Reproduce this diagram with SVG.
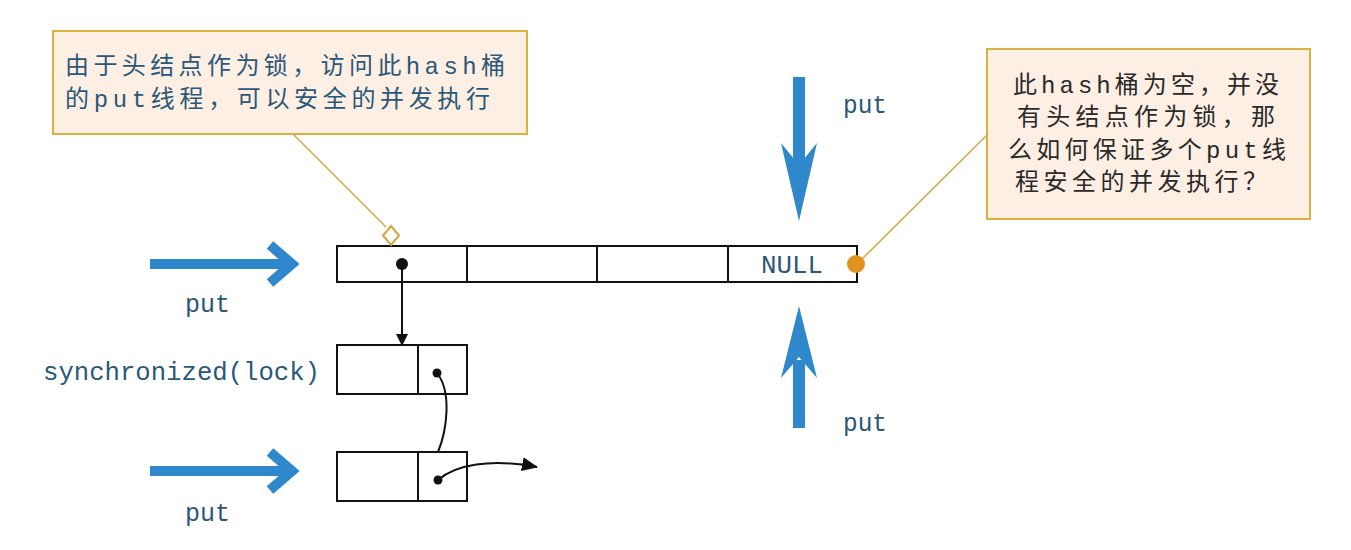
<svg xmlns="http://www.w3.org/2000/svg" width="1351" height="550" viewBox="0 0 1351 550">
<defs>
<style>
.box{fill:#fff;stroke:#111;stroke-width:2}
.lbl{font-family:"Liberation Mono","DejaVu Sans Mono",monospace;font-size:25px;fill:#2b5878}
.cjk{font-family:"Liberation Mono","Noto Sans CJK SC",sans-serif;font-size:24px}
.note{fill:#fdefe3;stroke:#dcb040;stroke-width:2}
.lead{stroke:#d6a640;stroke-width:1.5;fill:none}
.blue{stroke:#2f87cc;fill:none}
.bluef{fill:#2f87cc}
.ptr{stroke:#111;stroke-width:2;fill:none}
</style>
<marker id="ah" markerWidth="12" markerHeight="12" refX="11" refY="6" orient="auto" markerUnits="userSpaceOnUse"><path d="M0,0 L12,6 L0,12 Z" fill="#111"/></marker>
<marker id="ah2" markerWidth="16" markerHeight="14" refX="15" refY="7" orient="auto" markerUnits="userSpaceOnUse"><path d="M0,0 L16,7 L0,14 Z" fill="#111"/></marker>
</defs>
<rect width="1351" height="550" fill="#fff"/>

<g id="note-left">
<rect class="note" x="53" y="31" width="474" height="103"/>
<text class="cjk" x="65" y="74" fill="#2b5878" textLength="440" lengthAdjust="spacing">由于头结点作为锁，访问此hash桶</text>
<text class="cjk" x="65" y="107" fill="#2b5878" textLength="425" lengthAdjust="spacing">的put线程，可以安全的并发执行</text>
</g>

<g id="note-right">
<rect class="note" x="987" y="49" width="323" height="170"/>
<text class="cjk" x="1013" y="93" fill="#2a2a2a" textLength="266" lengthAdjust="spacing">此hash桶为空，并没</text>
<text class="cjk" x="1017" y="125" fill="#2a2a2a" textLength="258" lengthAdjust="spacing">有头结点作为锁，那</text>
<text class="cjk" x="1008" y="158" fill="#2a2a2a" textLength="278" lengthAdjust="spacing">么如何保证多个put线</text>
<text class="cjk" x="1015" y="190" fill="#2a2a2a" textLength="252" lengthAdjust="spacing">程安全的并发执行？</text>
</g>

<g id="bucket-array">
<rect class="box" x="337" y="246" width="520" height="36"/>
<line class="box" x1="467" y1="246" x2="467" y2="282"/>
<line class="box" x1="597" y1="246" x2="597" y2="282"/>
<line class="box" x1="728" y1="246" x2="728" y2="282"/>
<text class="lbl" x="761" y="273" textLength="62" lengthAdjust="spacingAndGlyphs">NULL</text>
</g>

<g id="node1">
<rect class="box" x="337" y="345" width="130" height="49"/>
<line class="box" x1="418" y1="345" x2="418" y2="394"/>
</g>

<g id="node2">
<rect class="box" x="337" y="452" width="130" height="49"/>
<line class="box" x1="418" y1="452" x2="418" y2="501"/>
</g>

<g id="label-sync">
<text class="lbl" x="43" y="380" textLength="277" lengthAdjust="spacingAndGlyphs">synchronized(lock)</text>
</g>

<g id="labels-put">
<text class="lbl" x="185" y="312" textLength="45" lengthAdjust="spacingAndGlyphs">put</text>
<text class="lbl" x="185" y="521" textLength="45" lengthAdjust="spacingAndGlyphs">put</text>
<text class="lbl" x="843" y="113" textLength="44" lengthAdjust="spacingAndGlyphs">put</text>
<text class="lbl" x="843" y="431" textLength="44" lengthAdjust="spacingAndGlyphs">put</text>
</g>

<g id="connectors">
<line class="lead" x1="293" y1="134" x2="386" y2="227"/>
<path d="M391,226 L399,235.5 L391,245 L383,235.5 Z" fill="#fff" stroke="#d6a640" stroke-width="2"/>
<line class="lead" x1="987" y1="135" x2="857" y2="264"/>
<circle cx="856" cy="264" r="9" fill="#df9422"/>
<circle cx="402" cy="264" r="6" fill="#111"/>
<line class="ptr" x1="402" y1="264" x2="402" y2="345" marker-end="url(#ah)"/>
<circle cx="437" cy="373" r="4.5" fill="#111"/>
<path class="ptr" d="M437,373 C452,392 447,430 438,452"/>
<circle cx="438" cy="480" r="4.5" fill="#111"/>
<path class="ptr" d="M438,480 C455,465 490,458 537,467" marker-end="url(#ah2)"/>
<line class="blue" x1="150" y1="264" x2="288" y2="264" stroke-width="10"/>
<polyline class="blue" points="270,245 292,264 270,283" stroke-width="10" stroke-linejoin="miter"/>
<line class="blue" x1="150" y1="471" x2="288" y2="471" stroke-width="10"/>
<polyline class="blue" points="270,452 292,471 270,490" stroke-width="10" stroke-linejoin="miter"/>
<rect class="bluef" x="793" y="77" width="12" height="90"/>
<polygon class="bluef" points="781,143 799,165 817,143 799,221"/>
<rect class="bluef" x="793" y="360" width="12" height="68"/>
<polygon class="bluef" points="781,378 799,357 817,378 799,306"/>
</g>
</svg>
